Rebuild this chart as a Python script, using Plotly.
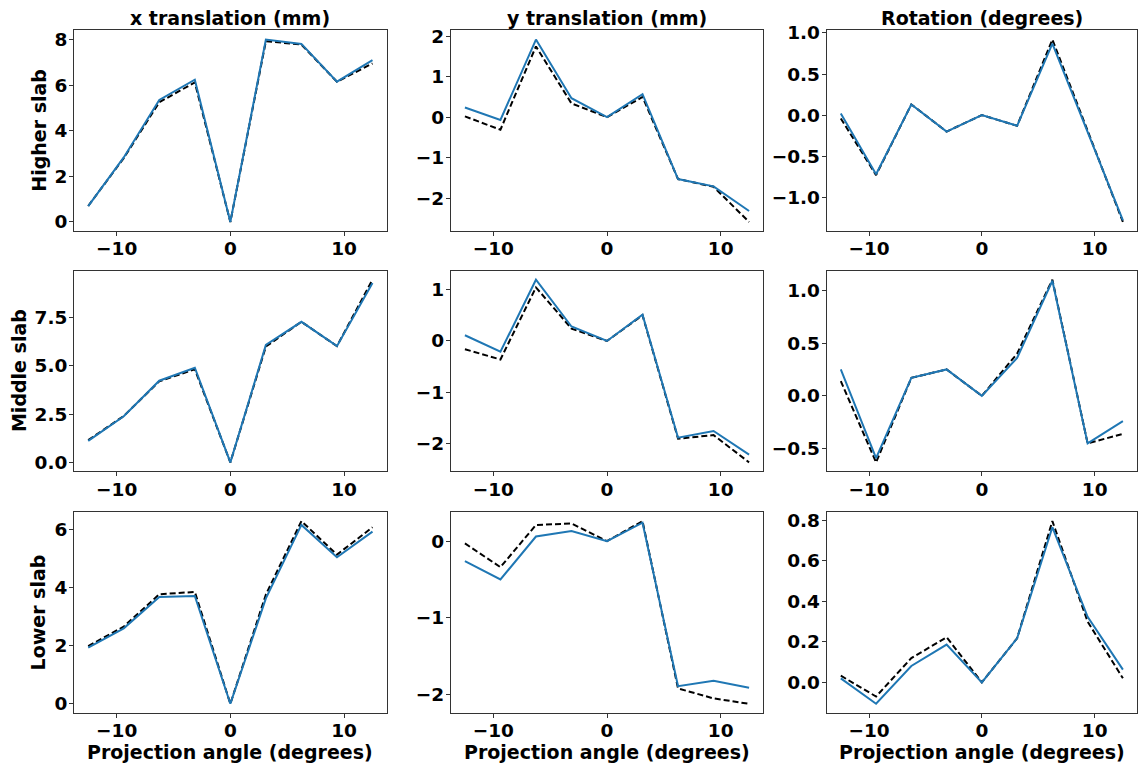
import plotly.graph_objects as go

# Projection angles (degrees)
angles = [-12.5, -9.375, -6.25, -3.125, 0.0, 3.125, 6.25, 9.375, 12.5]

col_titles = ["x translation (mm)", "y translation (mm)", "Rotation (degrees)"]
row_titles = ["Higher slab", "Middle slab", "Lower slab"]
x_label = "Projection angle (degrees)"

# Estimated motion (solid blue)
higher_x_est = [0.69, 2.83, 5.35, 6.24, 0.0, 8.0, 7.81, 6.15, 7.1]
higher_y_est = [0.24, -0.07, 1.92, 0.47, 0.0, 0.57, -1.53, -1.71, -2.32]
higher_r_est = [0.02, -0.72, 0.13, -0.2, 0.0, -0.13, 0.87, -0.2, -1.28]
middle_x_est = [1.11, 2.39, 4.23, 4.9, 0.0, 6.08, 7.28, 6.02, 9.29]
middle_y_est = [0.11, -0.21, 1.19, 0.28, 0.0, 0.51, -1.88, -1.75, -2.21]
middle_r_est = [0.25, -0.59, 0.17, 0.25, 0.0, 0.36, 1.09, -0.45, -0.24]
lower_x_est = [1.93, 2.59, 3.67, 3.7, 0.0, 3.62, 6.14, 5.03, 5.91]
lower_y_est = [-0.26, -0.5, 0.06, 0.13, 0.0, 0.24, -1.89, -1.82, -1.91]
lower_r_est = [0.02, -0.106, 0.081, 0.187, 0.0, 0.218, 0.767, 0.324, 0.063]

# True motion (dashed black)
higher_x_true = [0.7, 2.8, 5.25, 6.12, 0.0, 7.93, 7.78, 6.15, 6.95]
higher_y_true = [0.02, -0.31, 1.75, 0.34, 0.0, 0.5, -1.53, -1.72, -2.59]
higher_r_true = [-0.04, -0.73, 0.13, -0.2, 0.0, -0.13, 0.92, -0.2, -1.3]
middle_x_true = [1.15, 2.4, 4.2, 4.82, 0.0, 6.0, 7.28, 6.02, 9.46]
middle_y_true = [-0.16, -0.36, 1.04, 0.24, 0.0, 0.5, -1.9, -1.83, -2.36]
middle_r_true = [0.14, -0.63, 0.17, 0.25, 0.0, 0.4, 1.1, -0.45, -0.36]
lower_x_true = [1.98, 2.65, 3.76, 3.84, 0.0, 3.75, 6.27, 5.12, 6.06]
lower_y_true = [-0.03, -0.34, 0.21, 0.23, 0.0, 0.26, -1.92, -2.05, -2.12]
lower_r_true = [0.033, -0.07, 0.12, 0.223, 0.0, 0.218, 0.797, 0.3, 0.02]

estimated = [
    [higher_x_est, higher_y_est, higher_r_est],
    [middle_x_est, middle_y_est, middle_r_est],
    [lower_x_est, lower_y_est, lower_r_est],
]
true_motion = [
    [higher_x_true, higher_y_true, higher_r_true],
    [middle_x_true, middle_y_true, middle_r_true],
    [lower_x_true, lower_y_true, lower_r_true],
]

x_ticks = [-10, 0, 10]
y_ticks = [
    [[0, 2, 4, 6, 8], [-2, -1, 0, 1, 2], [-1.0, -0.5, 0.0, 0.5, 1.0]],
    [[0.0, 2.5, 5.0, 7.5], [-2, -1, 0, 1], [-0.5, 0.0, 0.5, 1.0]],
    [[0, 2, 4, 6], [-2, -1, 0], [0.0, 0.2, 0.4, 0.6, 0.8]],
]
y_fmt = [[".0f", ".0f", ".1f"], [".1f", ".0f", ".1f"], [".0f", ".0f", ".1f"]]

W, H = 1138, 767
# Axes boxes in pixels (left, right) and (top, bottom)
col_px = [(74, 386.7), (450.7, 763.3), (826.7, 1137.0)]
row_px = [(22.7, 225.7), (265.7, 469.0), (510.0, 713.3)]

FONT = "DejaVu Sans"
BLUE = "#1f77b4"

fig = go.Figure()
layout_axes = {}


def padded(vals_list):
    lo = min(min(v) for v in vals_list)
    hi = max(max(v) for v in vals_list)
    pad = 0.05 * (hi - lo)
    return [lo - pad, hi + pad]


for r in range(3):
    for c in range(3):
        k = r * 3 + c + 1
        xa = "x" if k == 1 else f"x{k}"
        ya = "y" if k == 1 else f"y{k}"
        fig.add_trace(go.Scatter(
            x=angles, y=true_motion[r][c], mode="lines",
            line=dict(color="black", width=2, dash="6px,3px"),
            xaxis=xa, yaxis=ya, showlegend=False,
        ))
        fig.add_trace(go.Scatter(
            x=angles, y=estimated[r][c], mode="lines",
            line=dict(color=BLUE, width=2),
            xaxis=xa, yaxis=ya, showlegend=False,
        ))
        common = dict(
            showline=True, linecolor="#333333", linewidth=1, mirror=True,
            showgrid=False, zeroline=False,
            ticks="outside", ticklen=4, tickwidth=1, tickcolor="#333333",
            tickfont=dict(family=FONT, size=18.5, color="black", weight="bold"),
        )
        xl, xr = col_px[c]
        yt, yb = row_px[r]
        layout_axes["xaxis" if k == 1 else f"xaxis{k}"] = dict(
            common, domain=[xl / W, xr / W], anchor=ya,
            range=[-13.75, 13.75], tickvals=x_ticks,
            ticklabelstandoff=-3,
        )
        layout_axes["yaxis" if k == 1 else f"yaxis{k}"] = dict(
            common, domain=[1 - yb / H, 1 - yt / H], anchor=xa,
            range=padded([estimated[r][c], true_motion[r][c]]),
            tickvals=y_ticks[r][c], tickformat=y_fmt[r][c],
            ticklabelstandoff=-2,
        )

fig.update_layout(**layout_axes)

annotations = []
title_font = dict(family=FONT, size=19, color="black", weight="bold")
for c in range(3):
    xl, xr = col_px[c]
    annotations.append(dict(
        text=col_titles[c], x=(xl + xr) / 2 / W, y=1 - 10.5 / H,
        xref="paper", yref="paper", xanchor="center", yanchor="middle",
        showarrow=False, font=title_font,
    ))
    annotations.append(dict(
        text=x_label, x=(xl + xr) / 2 / W, y=1 - 753 / H,
        xref="paper", yref="paper", xanchor="center", yanchor="middle",
        showarrow=False, font=title_font,
    ))
row_label_x = [39, 19, 38]
for r in range(3):
    yt, yb = row_px[r]
    annotations.append(dict(
        text=row_titles[r], x=row_label_x[r] / W, y=1 - (yt + yb) / 2 / H,
        xref="paper", yref="paper", xanchor="center", yanchor="middle",
        textangle=-90, showarrow=False, font=title_font,
    ))

fig.update_layout(
    width=W, height=H,
    margin=dict(l=0, r=0, t=0, b=0),
    paper_bgcolor="white", plot_bgcolor="white",
    annotations=annotations,
)

fig.write_html("out.html")
